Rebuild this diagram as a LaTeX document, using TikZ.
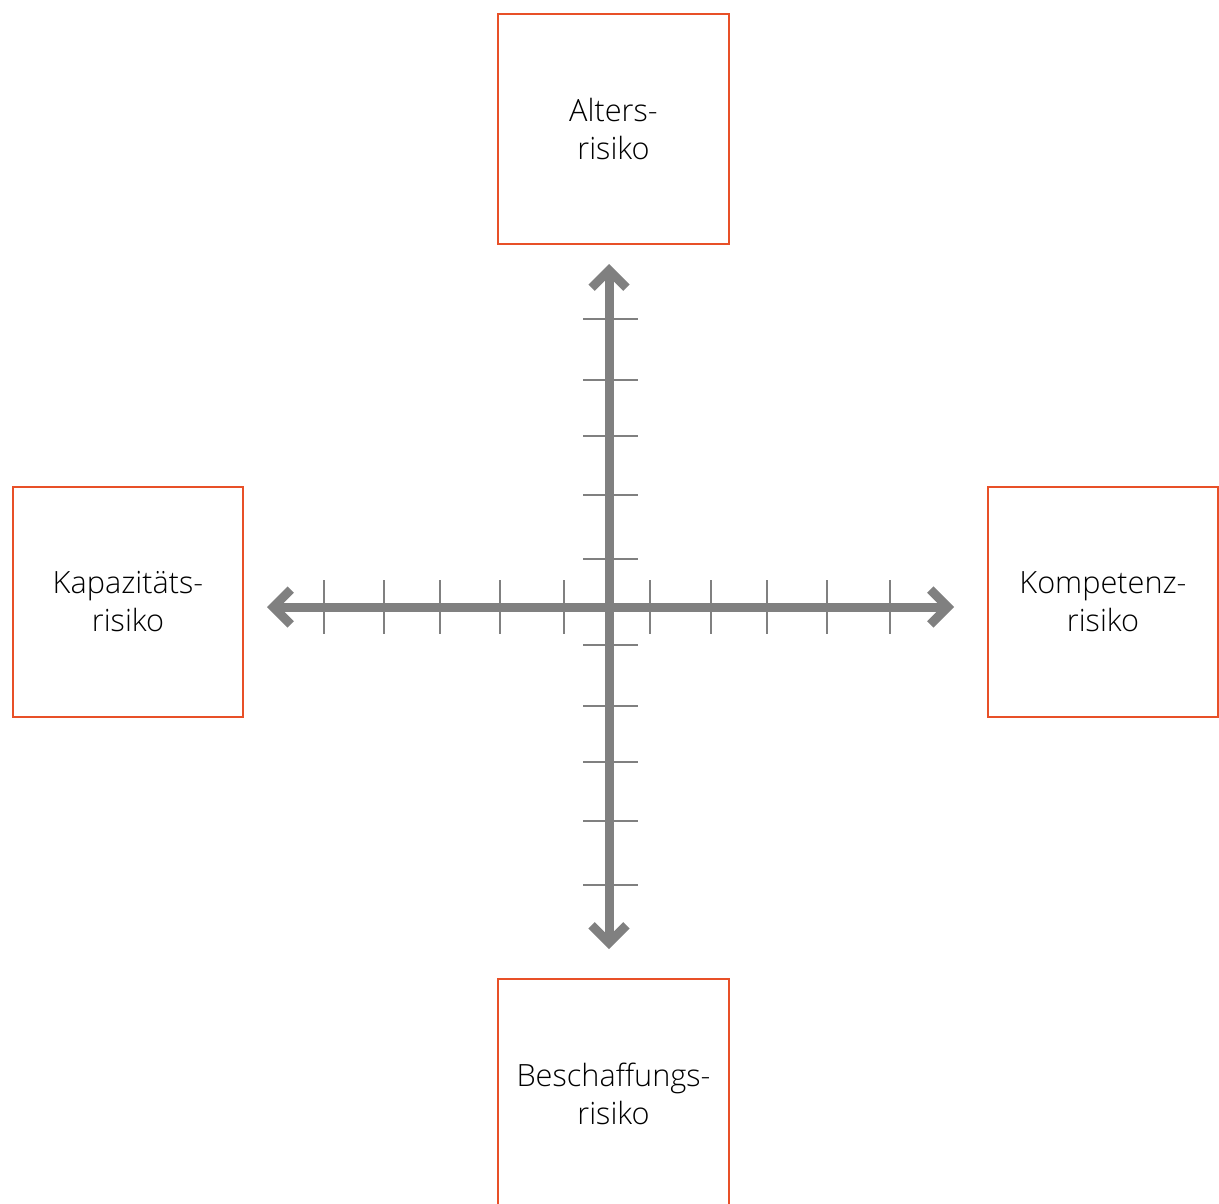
\documentclass[tikz,border=0pt]{standalone}
\usepackage{fontspec}
\setmainfont{Open Sans Light}
\usetikzlibrary{arrows.meta}
\definecolor{riskorange}{RGB}{232,80,40}
\definecolor{axisgrey}{RGB}{128,128,128}
\tikzset{
  riskbox/.style={draw=riskorange, line width=1.6pt, minimum size=173pt, inner sep=0pt,
    align=center, font=\fontsize{23}{28.5}\selectfont},
  axisline/.style={draw=axisgrey, line width=6.75pt, >={Straight Barb[length=13pt,width=26pt]}, <->},
  tickline/.style={draw=axisgrey, line width=1.5pt}
}

\begin{document}
\begin{tikzpicture}[x=0.75pt,y=-0.75pt]
			%%%%% START %%%%%
			\useasboundingbox (0,0) rectangle (1219,1203);
			
			\node[riskbox] (alter) at (613.5,129) {Alters-\\risiko};
			\node[riskbox] (kapa) at (128,602) {Kapazitäts-\\risiko};
			\node[riskbox] (kompe) at (1103,602) {Kompetenz-\\risiko};
			\node[riskbox] (beschaff) at (613.5,1094) {Beschaffungs-\\risiko};
			
			\coordinate (origin) at (609,607);
			\coordinate (xleft) at (267,607);
			\coordinate (xright) at (954,607);
			\coordinate (ytop) at (609,264);
			\coordinate (ybottom) at (609,949);
			
			\foreach \x in {324,384,440,500,564,650,711,767,827,890}
				\draw[tickline] (\x,580) -- (\x,634);
			\foreach \y in {319,380,436,495,559,645,706,762,821,885}
				\draw[tickline] (583,\y) -- (638,\y);
			
			\draw[axisline] (xleft) -- (xright);
			\draw[axisline] (ytop) -- (ybottom);
			
			%%%%% END %%%%%
\end{tikzpicture}
\end{document}
